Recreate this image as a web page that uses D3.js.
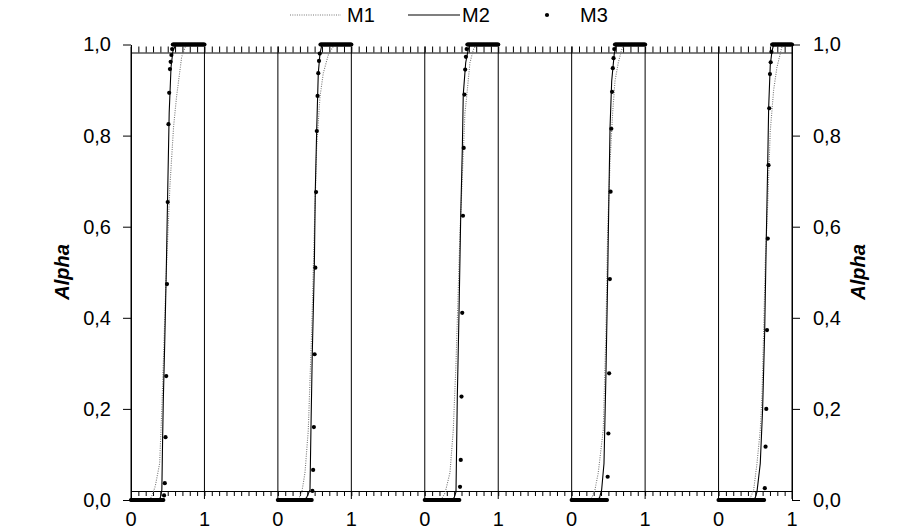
<!DOCTYPE html>
<html><head><meta charset="utf-8">
<script src="https://cdn.jsdelivr.net/npm/d3@7"></script>
<style>body{margin:0;background:#fff}svg{display:block;font-family:"Liberation Sans",Arial,sans-serif}</style>
</head><body><svg id="c" width="904" height="531"></svg>
<script>
// ---------- data ----------
const panelStarts = [0, 2, 4, 6, 8];
const yTicks = [0, 0.2, 0.4, 0.6, 0.8, 1.0];
const yTickLabels = ["0,0", "0,2", "0,4", "0,6", "0,8", "1,0"];
const xTickValues = [0, 1, 2, 3, 4, 5, 6, 7, 8, 9];
const xTickLabels = ["0", "1", "0", "1", "0", "1", "0", "1", "0", "1"];
const seriesNames = ["M1", "M2", "M3"];
const axisTitle = "Alpha";

// M1 (dotted) per panel: [x, alpha]
const m1P1 = [[0,0],[0.25,0],[0.28,0.007],[0.33,0.03],[0.39,0.08],[0.42,0.2],[0.45,0.35],[0.48,0.5],[0.53,0.69],[0.58,0.82],[0.62,0.885],[0.69,0.973],[0.74,0.995],[0.78,1],[1,1]];
const m1P2 = [[0,0],[0.27,0],[0.324,0.015],[0.369,0.06],[0.414,0.154],[0.46,0.37],[0.496,0.59],[0.528,0.775],[0.573,0.885],[0.618,0.937],[0.686,0.977],[0.733,0.99],[0.77,1],[1,1]];
const m1P3 = [[0,0],[0.22,0],[0.275,0.015],[0.343,0.06],[0.388,0.154],[0.425,0.3],[0.48,0.59],[0.547,0.85],[0.57,0.885],[0.615,0.96],[0.66,0.988],[0.70,1],[1,1]];
const m1P4 = [[0,0],[0.26,0],[0.317,0.022],[0.362,0.06],[0.43,0.154],[0.467,0.37],[0.49,0.59],[0.522,0.74],[0.558,0.85],[0.59,0.92],[0.635,0.96],[0.68,0.988],[0.72,1],[1,1]];
const m1P5 = [[0,0],[0.42,0],[0.478,0.022],[0.523,0.08],[0.568,0.154],[0.591,0.227],[0.614,0.37],[0.636,0.52],[0.673,0.666],[0.704,0.81],[0.75,0.9],[0.795,0.95],[0.84,0.98],[0.863,0.995],[0.9,1],[1,1]];

// M2 (solid) per panel: [x, alpha]
const m2P1 = [[0,0],[0.36,0],[0.40,0.005],[0.42,0.022],[0.43,0.13],[0.44,0.22],[0.46,0.35],[0.48,0.5],[0.50,0.68],[0.52,0.85],[0.545,0.95],[0.57,0.985],[0.61,1],[1,1]];
const m2P2 = [[0,0],[0.35,0],[0.39,0.005],[0.437,0.022],[0.45,0.154],[0.468,0.32],[0.496,0.51],[0.509,0.676],[0.528,0.81],[0.55,0.937],[0.573,0.98],[0.60,1],[1,1]];
const m2P3 = [[0,0],[0.36,0],[0.40,0.005],[0.425,0.018],[0.443,0.227],[0.466,0.41],[0.489,0.62],[0.511,0.77],[0.524,0.89],[0.557,0.96],[0.592,0.99],[0.62,1],[1,1]];
const m2P4 = [[0,0],[0.34,0],[0.38,0.005],[0.408,0.022],[0.44,0.08],[0.467,0.278],[0.49,0.485],[0.508,0.677],[0.522,0.815],[0.545,0.92],[0.58,0.98],[0.61,1],[1,1]];
const m2P5 = [[0,0],[0.47,0],[0.50,0.005],[0.523,0.018],[0.568,0.08],[0.60,0.2],[0.628,0.37],[0.65,0.574],[0.669,0.735],[0.682,0.86],[0.704,0.955],[0.727,0.985],[0.75,1],[1,1]];

// M3 (points) sampled on a common grid (101 points, 10 per row)
const m3Grid = [
  0,0.01,0.02,0.03,0.04,0.05,0.06,0.07,0.08,0.09,
  0.1,0.11,0.12,0.13,0.14,0.15,0.16,0.17,0.18,0.19,
  0.2,0.21,0.22,0.23,0.24,0.25,0.26,0.27,0.28,0.29,
  0.3,0.31,0.32,0.33,0.34,0.35,0.36,0.37,0.38,0.39,
  0.4,0.41,0.42,0.43,0.44,0.45,0.46,0.47,0.48,0.49,
  0.5,0.51,0.52,0.53,0.54,0.55,0.56,0.57,0.58,0.59,
  0.6,0.61,0.62,0.63,0.64,0.65,0.66,0.67,0.68,0.69,
  0.7,0.71,0.72,0.73,0.74,0.75,0.76,0.77,0.78,0.79,
  0.8,0.81,0.82,0.83,0.84,0.85,0.86,0.87,0.88,0.89,
  0.9,0.91,0.92,0.93,0.94,0.95,0.96,0.97,0.98,0.99,
  1];
const m3P1 = [
  0,0,0,0,0,0,0,0,0,0,
  0,0,0,0,0,0,0,0,0,0,
  0,0,0,0,0,0,0,0,0,0,
  0,0,0,0,0,0,0,0,0,0,
  0,0,0,0,0,0.01,0.037,0.138,0.272,0.474,
  0.654,0.825,0.894,0.946,0.962,0.977,0.99,1,1,1,
  1,1,1,1,1,1,1,1,1,1,
  1,1,1,1,1,1,1,1,1,1,
  1,1,1,1,1,1,1,1,1,1,
  1,1,1,1,1,1,1,1,1,1,
  1];
const m3P2 = [
  0,0,0,0,0,0,0,0,0,0,
  0,0,0,0,0,0,0,0,0,0,
  0,0,0,0,0,0,0,0,0,0,
  0,0,0,0,0,0,0,0,0,0,
  0,0,0,0,0,0,0,0.02,0.066,0.16,
  0.32,0.51,0.676,0.81,0.887,0.937,0.964,0.98,1,1,
  1,1,1,1,1,1,1,1,1,1,
  1,1,1,1,1,1,1,1,1,1,
  1,1,1,1,1,1,1,1,1,1,
  1,1,1,1,1,1,1,1,1,1,
  1];
const m3P3 = [
  0,0,0,0,0,0,0,0,0,0,
  0,0,0,0,0,0,0,0,0,0,
  0,0,0,0,0,0,0,0,0,0,
  0,0,0,0,0,0,0,0,0,0,
  0,0,0,0,0,0,0,0,0.029,0.088,
  0.227,0.411,0.624,0.773,0.89,0.945,0.973,0.99,1,1,
  1,1,1,1,1,1,1,1,1,1,
  1,1,1,1,1,1,1,1,1,1,
  1,1,1,1,1,1,1,1,1,1,
  1,1,1,1,1,1,1,1,1,1,
  1];
const m3P4 = [
  0,0,0,0,0,0,0,0,0,0,
  0,0,0,0,0,0,0,0,0,0,
  0,0,0,0,0,0,0,0,0,0,
  0,0,0,0,0,0,0,0,0,0,
  0,0,0,0,0,0,0,0,0,0.051,
  0.146,0.278,0.485,0.677,0.815,0.896,0.948,0.97,0.99,1,
  1,1,1,1,1,1,1,1,1,1,
  1,1,1,1,1,1,1,1,1,1,
  1,1,1,1,1,1,1,1,1,1,
  1,1,1,1,1,1,1,1,1,1,
  1];
const m3P5 = [
  0,0,0,0,0,0,0,0,0,0,
  0,0,0,0,0,0,0,0,0,0,
  0,0,0,0,0,0,0,0,0,0,
  0,0,0,0,0,0,0,0,0,0,
  0,0,0,0,0,0,0,0,0,0,
  0,0,0,0,0,0,0,0,0,0,
  0,0,0,0.026,0.117,0.2,0.373,0.574,0.735,0.86,
  0.935,0.961,0.984,1,1,1,1,1,1,1,
  1,1,1,1,1,1,1,1,1,1,
  1,1,1,1,1,1,1,1,1,1,
  1];

const m1Panels = [m1P1, m1P2, m1P3, m1P4, m1P5];
const m2Panels = [m2P1, m2P2, m2P3, m2P4, m2P5];
const m3Panels = [m3P1, m3P2, m3P3, m3P4, m3P5];

// ---------- drawing ----------
const svg = d3.select("#c");
const x = d3.scaleLinear().domain([0, 9]).range([131, 792]);
const y = d3.scaleLinear().domain([0, 1]).range([500, 44.5]);
const topLineY = 52.5, bottomLineY = 491;
const FS = 20;

// minor-tick axes along the top and bottom guide lines
const minorTicks = d3.range(0, 90.5, 1).map(d => d / 10);
const gTop = svg.append("g").attr("transform", `translate(0,${topLineY})`)
  .call(d3.axisTop(x).tickValues(minorTicks).tickSize(6).tickSizeOuter(0).tickFormat(""));
const gBot = svg.append("g").attr("transform", `translate(0,${bottomLineY})`)
  .call(d3.axisBottom(x).tickValues(minorTicks).tickSize(5).tickSizeOuter(0).tickFormat(""));
[gTop, gBot].forEach(g => { g.select(".domain").attr("stroke", "#000"); g.selectAll(".tick line").attr("stroke", "#000"); });

// vertical lines at each integer
svg.append("g").selectAll("line").data(xTickValues).join("line")
  .attr("x1", d => x(d)).attr("x2", d => x(d))
  .attr("y1", topLineY - 6).attr("y2", 499)
  .attr("stroke", "#000").attr("stroke-width", 1);

// x labels
svg.append("g").selectAll("text").data(xTickValues).join("text")
  .attr("x", d => x(d)).attr("y", 526).attr("text-anchor", "middle")
  .attr("font-size", FS).text((d, i) => xTickLabels[i]);

// y axes
const yl = svg.append("g").attr("transform", `translate(${x(0)},0)`)
  .call(d3.axisLeft(y).tickValues(yTicks).tickSize(8).tickSizeOuter(0).tickPadding(12).tickFormat((d, i) => yTickLabels[i]));
const yr = svg.append("g").attr("transform", `translate(${x(9)},0)`)
  .call(d3.axisRight(y).tickValues(yTicks).tickSize(8).tickSizeOuter(0).tickPadding(13).tickFormat((d, i) => yTickLabels[i]));
[yl, yr].forEach(g => {
  g.select(".domain").attr("stroke", "#000");
  g.selectAll(".tick line").attr("stroke", "#000");
  g.selectAll("text").attr("font-size", FS).attr("font-family", "Liberation Sans, Arial, sans-serif").attr("fill", "#000");
});

// axis titles
[[69, 272], [865, 272]].forEach(([tx, ty]) => {
  svg.append("text").attr("transform", `translate(${tx},${ty}) rotate(-90)`)
    .attr("text-anchor", "middle").attr("font-size", FS).attr("font-weight", "bold")
    .attr("font-style", "italic").text(axisTitle);
});

// series
const line = d3.line().x(d => d[0]).y(d => d[1]);
panelStarts.forEach((p0, i) => {
  svg.append("path")
    .attr("d", line(m1Panels[i].map(d => [x(p0 + d[0]), y(d[1])])))
    .attr("fill", "none").attr("stroke", "#777").attr("stroke-width", 1.1).attr("stroke-dasharray", "1,1.3");
  svg.append("path")
    .attr("d", line(m2Panels[i].map(d => [x(p0 + d[0]), y(d[1])])))
    .attr("fill", "none").attr("stroke", "#000").attr("stroke-width", 1.1);
  svg.append("g").selectAll("circle").data(m3Panels[i]).join("circle")
    .attr("cx", (d, j) => x(p0 + m3Grid[j])).attr("cy", d => y(d)).attr("r", 2.1).attr("fill", "#000");
});

// legend
const lg = svg.append("g");
lg.append("line").attr("x1", 290).attr("x2", 341).attr("y1", 15).attr("y2", 15)
  .attr("stroke", "#777").attr("stroke-width", 1.1).attr("stroke-dasharray", "1,1.3");
lg.append("text").attr("x", 347).attr("y", 22).attr("font-size", FS).text(seriesNames[0]);
lg.append("line").attr("x1", 408).attr("x2", 460).attr("y1", 15).attr("y2", 15)
  .attr("stroke", "#000").attr("stroke-width", 1.1);
lg.append("text").attr("x", 462).attr("y", 22).attr("font-size", FS).text(seriesNames[1]);
lg.append("circle").attr("cx", 547).attr("cy", 15).attr("r", 2.1).attr("fill", "#000");
lg.append("text").attr("x", 580).attr("y", 22).attr("font-size", FS).text(seriesNames[2]);
</script>
</body></html>
